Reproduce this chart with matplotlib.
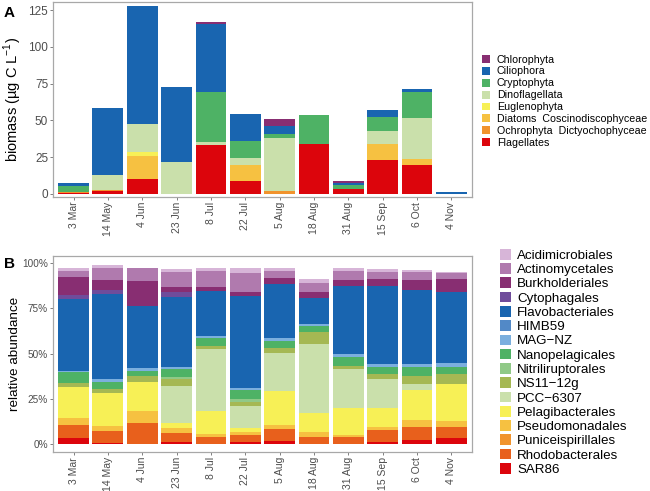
import numpy as np
import matplotlib
matplotlib.use("Agg")
import matplotlib.pyplot as plt
from matplotlib.patches import Patch
from matplotlib.ticker import FuncFormatter

plt.rcParams['font.family'] = ['Liberation Sans', 'DejaVu Sans']
plt.rcParams['mathtext.fontset'] = 'custom'
plt.rcParams['mathtext.rm'] = 'Liberation Sans'

dates = ["3 Mar", "14 May", "4 Jun", "23 Jun", "8 Jul", "22 Jul",
         "5 Aug", "18 Aug", "31 Aug", "15 Sep", "6 Oct", "4 Nov"]

# panel A, biomass (ug C / L), stacked bottom -> top
flagellates   = [0.6, 2.3, 10.0, 0, 33.6, 8.8, 0, 33.8, 3.4, 23.4, 19.7, 0]
ochrophyta    = [0.4, 0.4, 0, 0, 0, 0, 2.0, 0, 0, 0, 0, 0]
diatoms       = [0, 0, 15.9, 0, 0, 10.9, 0, 0, 0, 10.8, 3.9, 0]
euglenophyta  = [0, 0, 2.7, 0, 0, 0, 0, 0, 0, 0, 0, 0]
dinoflagellata = [0, 10.0, 18.8, 21.5, 1.8, 4.6, 35.9, 0, 0, 8.4, 28.3, 0]
cryptophyta   = [4.6, 0.5, 0, 0, 33.8, 11.7, 2.7, 19.7, 2.7, 9.6, 17.3, 0]
ciliophora    = [2.1, 45.5, 80.5, 51.3, 46.4, 18.4, 5.9, 0, 1.6, 4.7, 2.2, 1.3]
chlorophyta   = [0, 0, 0, 0, 1.2, 0, 4.3, 0, 0.9, 0, 0, 0]

# panel B, relative abundance (%), stacked bottom -> top
sar86          = [3.0, 0.5, 0, 0.8, 0, 1.0, 1.7, 0, 0, 1.0, 2.0, 3.0]
rhodobact      = [7.4, 6.7, 11.6, 5.0, 3.9, 3.8, 6.3, 3.9, 3.9, 6.6, 7.4, 6.1]
puniceispir    = [0, 0, 0, 0, 0, 0, 0, 0, 0, 0, 0, 0]
pseudomonad    = [3.7, 2.6, 6.7, 2.7, 1.3, 1.9, 2.4, 2.8, 0.9, 1.5, 3.7, 3.5]
pelagibact     = [17.5, 18.1, 15.7, 3.1, 12.9, 2.2, 19.0, 10.5, 14.8, 10.5, 16.7, 20.3]
pcc6307        = [0, 0, 0, 20.4, 34.2, 12.0, 21.0, 38.1, 21.8, 16.3, 3.1, 0]
ns11_12g       = [1.9, 2.4, 3.4, 3.9, 2.0, 2.0, 2.5, 6.8, 1.8, 2.7, 4.6, 5.7]
nitrilirupt    = [0, 0, 0, 1.1, 0, 1.9, 0, 0, 0, 0, 0, 0]
nanopelag      = [6.1, 4.1, 3.1, 4.2, 4.5, 5.0, 4.0, 3.1, 5.0, 4.1, 5.2, 4.1]
mag_nz         = [0.9, 1.3, 1.3, 1.3, 1.1, 0.9, 1.5, 1.2, 1.5, 1.5, 1.5, 1.9]
himb59         = [0, 0, 0, 0, 0, 0, 0, 0, 0, 0, 0, 0]
flavobact      = [39.7, 47.1, 34.7, 39.0, 24.7, 51.2, 30.0, 14.2, 37.9, 43.4, 41.0, 39.3]
cytophag       = [2.2, 2.4, 0, 2.8, 0, 0, 0, 0, 0, 0, 0, 0]
burkhold       = [10.2, 5.5, 13.9, 2.7, 2.4, 2.0, 3.6, 3.7, 3.1, 3.7, 5.5, 7.4]
actinomyc      = [3.3, 6.9, 6.8, 8.3, 8.7, 10.6, 3.7, 4.9, 5.0, 4.0, 4.3, 3.2]
acidimicrob    = [1.3, 1.4, 0, 1.4, 1.5, 2.7, 1.5, 1.9, 1.5, 1.4, 1.3, 0.5]

euk_names = ["Chlorophyta", "Ciliophora", "Cryptophyta", "Dinoflagellata",
             "Euglenophyta", "Diatoms  Coscinodiscophyceae",
             "Ochrophyta  Dictyochophyceae", "Flagellates"]
euk_vals = [chlorophyta, ciliophora, cryptophyta, dinoflagellata,
            euglenophyta, diatoms, ochrophyta, flagellates]
euk_cols = ["#882E72", "#1965B0", "#4EB265", "#CAE0AB",
            "#F7F056", "#F6C141", "#F1932D", "#DC050C"]

bac_names = ["Acidimicrobiales", "Actinomycetales", "Burkholderiales",
             "Cytophagales", "Flavobacteriales", "HIMB59", "MAG\u2212NZ",
             "Nanopelagicales", "Nitriliruptorales", "NS11\u221212g",
             "PCC\u22126307", "Pelagibacterales", "Pseudomonadales",
             "Puniceispirillales", "Rhodobacterales", "SAR86"]
bac_vals = [acidimicrob, actinomyc, burkhold, cytophag, flavobact, himb59,
            mag_nz, nanopelag, nitrilirupt, ns11_12g, pcc6307, pelagibact,
            pseudomonad, puniceispir, rhodobact, sar86]
bac_cols = ["#D7B5D8", "#B07AAE", "#882E72", "#6F4C9B", "#1965B0", "#5289C7",
            "#7BAFDE", "#4EB265", "#90C987", "#A5B853", "#CAE0AB", "#F7F056",
            "#F6C141", "#F1932D", "#E8601C", "#DC050C"]

fig = plt.figure(figsize=(6.5, 4.91), dpi=100)
axA = fig.add_axes([0.0815, 0.599, 0.6446, 0.397])
axB = fig.add_axes([0.0815, 0.0794, 0.6446, 0.399])

x = np.arange(len(dates))

def stack(ax, vals, cols, scale=1.0):
    bottom = np.zeros(len(dates))
    # legend order is top of stack first, so draw reversed
    for v, c in zip(vals[::-1], cols[::-1]):
        v = np.array(v) * scale
        ax.bar(x, v, bottom=bottom, width=0.9, color=c, linewidth=0)
        bottom += v

stack(axA, euk_vals, euk_cols)
stack(axB, bac_vals, bac_cols, scale=0.01)

frame_col = "#A8A8A8"
for ax in (axA, axB):
    ax.set_xlim(-0.6, 11.6)
    ax.set_xticks(x)
    ax.set_xticklabels(dates, rotation=90, va='top', ha='center')
    for s in ax.spines.values():
        s.set_color(frame_col)
        s.set_linewidth(0.9)
    ax.tick_params(colors="#7F7F7F", labelcolor="#4D4D4D", labelsize=7.5,
                   length=2, width=0.7, pad=1.5)

axA.set_ylim(-2, 130.6)
axA.set_yticks([0, 25, 50, 75, 100, 125])
axA.tick_params(axis='y', labelsize=8.5)
axA.set_ylabel("biomass (µg C L$^{\\mathrm{\u22121}}$)", fontsize=10.5)
axA.yaxis.set_label_coords(-0.07, 0.5)

axB.set_ylim(-0.046, 1.04)
axB.set_yticks([0, 0.25, 0.5, 0.75, 1.0])
axB.tick_params(axis='y', labelsize=7.2)
axB.yaxis.set_major_formatter(FuncFormatter(lambda v, p: f"{v*100:.0f}%"))
axB.set_ylabel("relative abundance", fontsize=9.7)
axB.yaxis.set_label_coords(-0.077, 0.5)

fig.text(0.006, 0.988, "A", fontsize=11, fontweight='bold', va='top')
fig.text(0.006, 0.476, "B", fontsize=11, fontweight='bold', va='top')

hA = [Patch(facecolor=c, edgecolor='none') for c in euk_cols]
fig.legend(hA, euk_names, loc='upper left', bbox_to_anchor=(0.7415, 0.889),
           frameon=False, fontsize=7.7, handlelength=0.76, handleheight=0.76,
           handletextpad=0.62, labelspacing=0.18, borderpad=0, borderaxespad=0)

hB = [Patch(facecolor=c, edgecolor='none') for c in bac_cols]
fig.legend(hB, bac_names, loc='upper left', bbox_to_anchor=(0.769, 0.493),
           frameon=False, fontsize=9.6, handlelength=0.85, handleheight=0.85,
           handletextpad=0.45, labelspacing=0.1, borderpad=0, borderaxespad=0)

fig.savefig("out.png", dpi=100)
